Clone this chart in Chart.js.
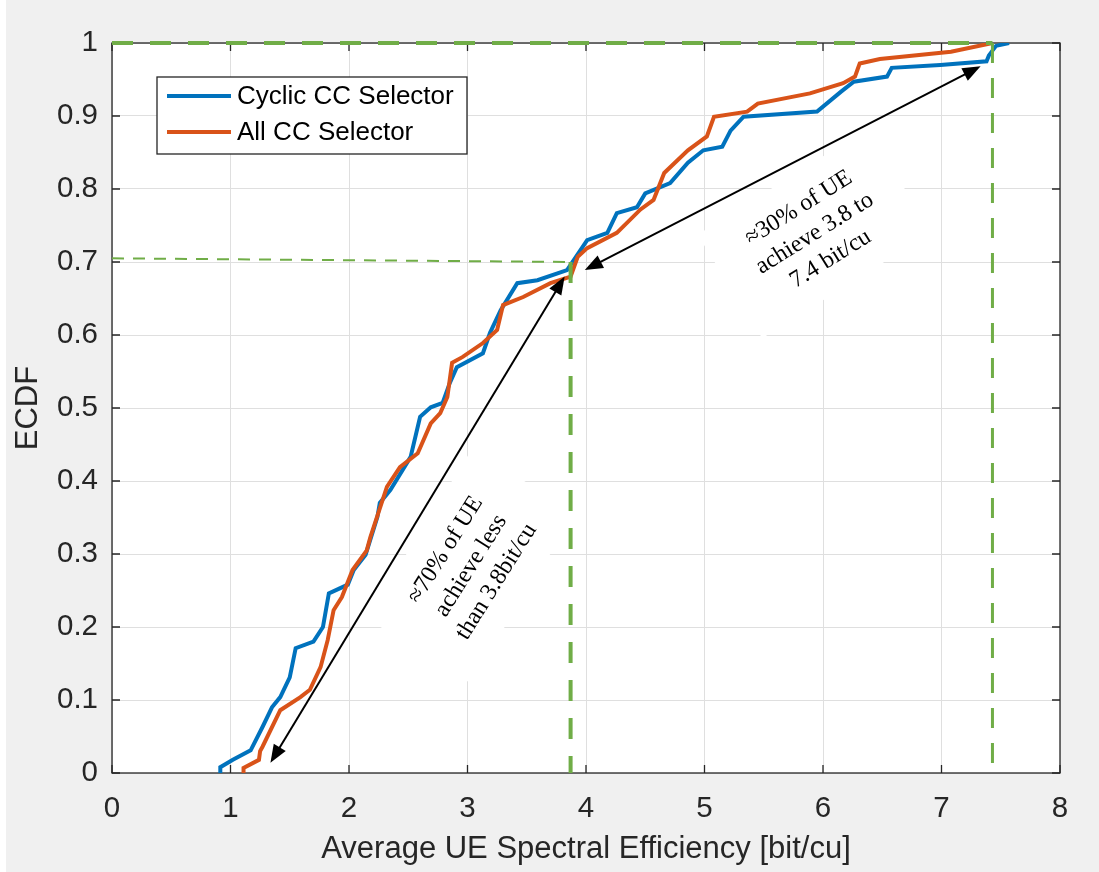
<!DOCTYPE html>
<html>
<head>
<meta charset="utf-8">
<script src="https://cdn.jsdelivr.net/npm/chart.js@4.4.1/dist/chart.umd.min.js"></script>
<style>
  html, body { margin: 0; padding: 0; background: #fff; }
  #wrap { width: 1099px; height: 872px; }
</style>
</head>
<body>
<div id="wrap"><canvas id="ecdfChart" width="1099" height="872"></canvas></div>
<script>
// ECDF of average UE spectral efficiency, two CC selectors
const seriesNames = ['Cyclic CC Selector', 'All CC Selector'];
const seriesColors = ['#0072BD', '#D95319'];

const cyclicX = [0.914, 0.914, 1.02, 1.17, 1.27, 1.35, 1.42, 1.50, 1.55, 1.70, 1.78, 1.83, 1.99, 2.04, 2.14,
  2.24, 2.26, 2.35, 2.52, 2.60, 2.69, 2.79, 2.85, 2.91, 3.13, 3.19, 3.28, 3.42, 3.59, 3.84, 4.01, 4.18, 4.26,
  4.43, 4.50, 4.71, 4.86, 4.99, 5.15, 5.22, 5.33, 5.95, 6.15, 6.26, 6.54, 6.58, 6.99, 7.38, 7.40, 7.46, 7.57];
const cyclicY = [0.000, 0.008, 0.018, 0.031, 0.063, 0.090, 0.104, 0.131, 0.171, 0.180, 0.200, 0.246, 0.258, 0.278, 0.299,
  0.351, 0.370, 0.388, 0.433, 0.488, 0.501, 0.507, 0.534, 0.556, 0.575, 0.603, 0.634, 0.671, 0.675, 0.689, 0.730, 0.740, 0.767,
  0.775, 0.794, 0.808, 0.836, 0.853, 0.858, 0.880, 0.899, 0.906, 0.933, 0.947, 0.954, 0.966, 0.970, 0.975, 0.983, 0.996, 1.000];

const allX = [1.11, 1.11, 1.24, 1.25, 1.27, 1.42, 1.59, 1.67, 1.76, 1.82, 1.87, 1.94, 2.03, 2.15, 2.18, 2.32, 2.43,
  2.58, 2.69, 2.77, 2.83, 2.87, 2.96, 3.13, 3.25, 3.30, 3.47, 3.70, 3.87, 3.93, 4.01, 4.26, 4.46, 4.57, 4.66,
  4.86, 5.02, 5.08, 5.36, 5.45, 5.89, 6.17, 6.27, 6.29, 6.31, 6.48, 7.08, 7.43];
const allY = [0.000, 0.007, 0.018, 0.030, 0.036, 0.086, 0.104, 0.114, 0.145, 0.182, 0.223, 0.241, 0.278, 0.305, 0.323, 0.392, 0.419,
  0.438, 0.479, 0.493, 0.515, 0.562, 0.570, 0.589, 0.607, 0.641, 0.652, 0.671, 0.680, 0.707, 0.719, 0.740, 0.772, 0.785, 0.822,
  0.853, 0.872, 0.899, 0.906, 0.917, 0.931, 0.945, 0.954, 0.963, 0.972, 0.978, 0.988, 1.000];

// dashed guide lines: [x0, y0, x1, y1]
const guideLines = [
  [0, 1, 7.43, 1],
  [7.43, 1, 7.43, 0],
  [0, 0.705, 3.87, 0.700],
  [3.87, 0.700, 3.87, 0]
];
const guideWidths = [4, 3, 2, 4];
const guideDashes = [[21, 17], [20, 15], [12, 9], [21, 17]];

// double-headed arrows
const arrowFromX = [1.337, 3.99];
const arrowFromY = [0.014, 0.689];
const arrowToX = [3.82, 7.33];
const arrowToY = [0.680, 0.968];

// rotated notes
const noteX = [3.03, 5.93];
const noteY = [0.284, 0.739];
const noteAngles = [-58, -32];
const noteLines = [
  ['\u224870% of UE', 'achieve less', 'than 3.8bit/cu'],
  ['\u224830% of UE', 'achieve 3.8 to', '7.4 bit/cu']
];

const xTicksMin = 0, xTicksMax = 8, xStep = 1;
const yTicksMin = 0, yTicksMax = 1, yStep = 0.1;

const sansFont = "'Liberation Sans', Arial, sans-serif";
const serifFont = "'Liberation Serif', 'Times New Roman', serif";
const axisInk = '#262626';
const guideGreen = '#70AD47';

function toPoints(xs, ys) {
  return xs.map((x, i) => ({ x: x, y: ys[i] }));
}

const datasets = [
  {
    label: seriesNames[0],
    data: toPoints(cyclicX, cyclicY),
    borderColor: seriesColors[0],
    borderWidth: 4,
    pointRadius: 0,
    tension: 0,
    order: 2
  },
  {
    label: seriesNames[1],
    data: toPoints(allX, allY),
    borderColor: seriesColors[1],
    borderWidth: 4,
    pointRadius: 0,
    tension: 0,
    order: 1
  }
];
guideLines.forEach((g, i) => {
  datasets.push({
    label: 'guide' + i,
    data: [{ x: g[0], y: g[1] }, { x: g[2], y: g[3] }],
    borderColor: guideGreen,
    borderWidth: guideWidths[i],
    borderDash: guideDashes[i],
    borderCapStyle: 'butt',
    pointRadius: 0,
    clip: 6,
    order: 0
  });
});

function drawArrowHead(ctx, tipX, tipY, ang) {
  const len = 18, half = 7;
  ctx.beginPath();
  ctx.moveTo(tipX, tipY);
  ctx.lineTo(tipX - len * Math.cos(ang) + half * Math.sin(ang), tipY - len * Math.sin(ang) - half * Math.cos(ang));
  ctx.lineTo(tipX - len * Math.cos(ang) - half * Math.sin(ang), tipY - len * Math.sin(ang) + half * Math.cos(ang));
  ctx.closePath();
  ctx.fill();
}

const figurePlugin = {
  id: 'figure',
  beforeDraw(chart) {
    const { ctx, chartArea: a } = chart;
    ctx.save();
    ctx.fillStyle = '#ffffff';
    ctx.fillRect(0, 0, chart.width, chart.height);
    ctx.fillStyle = '#f0f0f0';
    ctx.fillRect(6, 0, chart.width - 6, chart.height);
    ctx.fillStyle = '#ffffff';
    ctx.fillRect(a.left, a.top, a.right - a.left, a.bottom - a.top);
    ctx.restore();
  },
  beforeDatasetsDraw(chart) {
    const { ctx, chartArea: a, scales: { x, y } } = chart;
    ctx.save();
    // white backing behind the notes hides the grid
    ctx.fillStyle = '#ffffff';
    noteX.forEach((nx, i) => {
      ctx.save();
      ctx.translate(x.getPixelForValue(nx), y.getPixelForValue(noteY[i]));
      ctx.rotate(noteAngles[i] * Math.PI / 180);
      ctx.fillRect(-100, -61, 200, 122);
      ctx.restore();
    });
    // axes box with inward ticks
    ctx.strokeStyle = axisInk;
    ctx.lineWidth = 1.3;
    ctx.strokeRect(a.left, a.top, a.right - a.left, a.bottom - a.top);
    ctx.beginPath();
    x.ticks.forEach(t => {
      const px = x.getPixelForValue(t.value);
      ctx.moveTo(px, a.bottom); ctx.lineTo(px, a.bottom - 8);
      ctx.moveTo(px, a.top); ctx.lineTo(px, a.top + 8);
    });
    y.ticks.forEach(t => {
      const py = y.getPixelForValue(t.value);
      ctx.moveTo(a.left, py); ctx.lineTo(a.left + 8, py);
      ctx.moveTo(a.right, py); ctx.lineTo(a.right - 8, py);
    });
    ctx.stroke();
    ctx.restore();
  },
  afterDatasetsDraw(chart) {
    const { ctx, scales: { x, y } } = chart;
    ctx.save();
    // arrows
    ctx.strokeStyle = '#000';
    ctx.fillStyle = '#000';
    ctx.lineWidth = 2;
    arrowFromX.forEach((fx, i) => {
      const x1 = x.getPixelForValue(fx), y1 = y.getPixelForValue(arrowFromY[i]);
      const x2 = x.getPixelForValue(arrowToX[i]), y2 = y.getPixelForValue(arrowToY[i]);
      const ang = Math.atan2(y2 - y1, x2 - x1);
      ctx.beginPath();
      ctx.moveTo(x1 + 10 * Math.cos(ang), y1 + 10 * Math.sin(ang));
      ctx.lineTo(x2 - 10 * Math.cos(ang), y2 - 10 * Math.sin(ang));
      ctx.stroke();
      drawArrowHead(ctx, x2, y2, ang);
      drawArrowHead(ctx, x1, y1, ang + Math.PI);
    });
    // notes
    ctx.font = '24px ' + serifFont;
    ctx.textAlign = 'center';
    ctx.textBaseline = 'middle';
    noteX.forEach((nx, i) => {
      ctx.save();
      ctx.translate(x.getPixelForValue(nx), y.getPixelForValue(noteY[i]));
      ctx.rotate(noteAngles[i] * Math.PI / 180);
      const lines = noteLines[i];
      lines.forEach((t, k) => ctx.fillText(t, 0, (k - (lines.length - 1) / 2) * 30));
      ctx.restore();
    });
    // legend box
    const lx = 157, ly = 77, lw = 310, lh = 77;
    ctx.fillStyle = '#ffffff';
    ctx.fillRect(lx, ly, lw, lh);
    ctx.strokeStyle = axisInk;
    ctx.lineWidth = 1.3;
    ctx.strokeRect(lx, ly, lw, lh);
    ctx.font = '26px ' + sansFont;
    ctx.textAlign = 'left';
    ctx.textBaseline = 'middle';
    seriesNames.forEach((name, i) => {
      const rowY = ly + 19 + i * 36;
      ctx.strokeStyle = seriesColors[i];
      ctx.lineWidth = 4;
      ctx.beginPath();
      ctx.moveTo(lx + 10, rowY);
      ctx.lineTo(lx + 74, rowY);
      ctx.stroke();
      ctx.fillStyle = '#000';
      ctx.fillText(name, lx + 80, rowY + 1);
    });
    ctx.restore();
  }
};

new Chart(document.getElementById('ecdfChart').getContext('2d'), {
  type: 'line',
  data: { datasets: datasets },
  options: {
    responsive: false,
    animation: false,
    devicePixelRatio: 1,
    parsing: false,
    layout: { padding: { left: 0, top: 43, right: 39, bottom: 0 } },
    plugins: {
      legend: { display: false },
      tooltip: { enabled: false }
    },
    scales: {
      x: {
        type: 'linear',
        min: xTicksMin,
        max: xTicksMax,
        afterFit: s => { s.height = 99; },
        ticks: {
          stepSize: xStep,
          color: axisInk,
          padding: 18,
          font: { family: sansFont, size: 29.5 }
        },
        grid: { color: '#dfdfdf', lineWidth: 1, drawTicks: false },
        border: { display: false },
        title: {
          display: true,
          text: 'Average UE Spectral Efficiency [bit/cu]',
          color: axisInk,
          font: { family: sansFont, size: 31 },
          padding: { top: 0, bottom: 3.5 }
        }
      },
      y: {
        type: 'linear',
        min: yTicksMin,
        max: yTicksMax,
        afterFit: s => { s.width = 112; },
        ticks: {
          stepSize: yStep,
          color: axisInk,
          padding: 14,
          font: { family: sansFont, size: 29.5 },
          callback: v => String(+v.toFixed(1))
        },
        grid: { color: '#dfdfdf', lineWidth: 1, drawTicks: false },
        border: { display: false },
        title: {
          display: true,
          text: 'ECDF',
          color: axisInk,
          font: { family: sansFont, size: 31 },
          padding: { top: 9.5, bottom: 0 }
        }
      }
    }
  },
  plugins: [figurePlugin]
});
</script>
</body>
</html>
